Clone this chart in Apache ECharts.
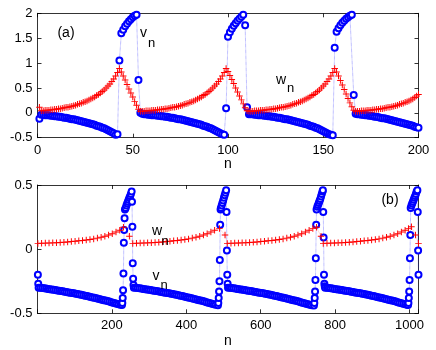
<!DOCTYPE html>
<html><head><meta charset="utf-8">
<script src="https://cdn.jsdelivr.net/npm/echarts@6/dist/echarts.min.js"></script>
<style>html,body{margin:0;padding:0;background:#fff}#c{width:436px;height:350px}</style>
</head><body><div id="c"></div>
<script>
// ---- Panel (a): n = 1..200 ----
const aV = [-0.12,
 -0.04,-0.04,-0.05,-0.05,-0.05,-0.06,-0.06,-0.07,-0.07,-0.08,-0.08,-0.09,-0.10,-0.10,-0.11,-0.12,-0.13,-0.13,-0.14,-0.15,-0.16,-0.17,-0.18,-0.19,-0.20,-0.21,-0.22,-0.23,-0.24,-0.26,-0.27,-0.28,-0.30,-0.31,-0.33,-0.35,-0.37,-0.39,-0.41,-0.44,-0.43,
 1.05,1.60,1.67,1.74,1.79,1.84,1.88,1.92,1.95,1.97,0.66,0.00,
 -0.02,-0.03,-0.03,-0.04,-0.04,-0.05,-0.05,-0.05,-0.06,-0.06,-0.07,-0.07,-0.08,-0.08,-0.09,-0.10,-0.10,-0.11,-0.12,-0.13,-0.13,-0.14,-0.15,-0.16,-0.17,-0.18,-0.19,-0.20,-0.21,-0.22,-0.23,-0.24,-0.26,-0.27,-0.28,-0.30,-0.31,-0.33,-0.35,-0.37,-0.39,-0.41,-0.43,-0.44,
 0.09,1.53,1.62,1.69,1.75,1.80,1.85,1.89,1.93,1.97,1.76,0.11,
 -0.03,-0.03,-0.03,-0.04,-0.04,-0.05,-0.05,-0.05,-0.06,-0.06,-0.07,-0.07,-0.08,-0.08,-0.09,-0.10,-0.10,-0.11,-0.12,-0.13,-0.13,-0.14,-0.15,-0.16,-0.17,-0.18,-0.19,-0.20,-0.21,-0.22,-0.23,-0.24,-0.26,-0.27,-0.28,-0.30,-0.31,-0.33,-0.35,-0.37,-0.39,-0.41,-0.43,-0.44,-0.45,
 1.31,1.63,1.70,1.76,1.81,1.85,1.89,1.92,1.95,1.97,0.36,-0.02,
 -0.03,-0.03,-0.04,-0.04,-0.05,-0.05,-0.06,-0.06,-0.07,-0.08,-0.08,-0.09,-0.10,-0.11,-0.11,-0.12,-0.13,-0.14,-0.15,-0.16,-0.17,-0.18,-0.19,-0.20,-0.21,-0.22,-0.23,-0.24,-0.25,-0.26,-0.28,-0.29,-0.30];
const aW = [0.11,
 0.04,0.04,0.05,0.05,0.05,0.06,0.06,0.07,0.07,0.08,0.08,0.09,0.10,0.11,0.11,0.12,0.13,0.14,0.15,0.17,0.18,0.19,0.21,0.22,0.24,0.26,0.28,0.30,0.32,0.35,0.37,0.40,0.43,0.46,0.50,0.54,0.58,0.63,0.68,0.74,0.81,0.89,
 0.82,0.74,0.66,0.57,0.48,0.40,0.32,0.23,0.15,0.07,0.03,
 0.03,0.03,0.04,0.04,0.04,0.05,0.05,0.05,0.06,0.06,0.07,0.07,0.08,0.08,0.09,0.10,0.11,0.11,0.12,0.13,0.14,0.15,0.17,0.18,0.19,0.21,0.22,0.24,0.26,0.28,0.30,0.32,0.35,0.37,0.40,0.43,0.46,0.50,0.54,0.58,0.63,0.68,0.74,0.81,0.89,
 0.83,0.75,0.67,0.59,0.50,0.42,0.34,0.26,0.18,0.10,0.04,
 0.03,0.03,0.03,0.04,0.04,0.04,0.05,0.05,0.05,0.06,0.06,0.07,0.07,0.08,0.08,0.09,0.10,0.11,0.11,0.12,0.13,0.14,0.15,0.17,0.18,0.19,0.21,0.22,0.24,0.26,0.28,0.30,0.32,0.35,0.37,0.40,0.43,0.46,0.50,0.54,0.58,0.63,0.68,0.74,0.81,0.89,
 0.82,0.74,0.65,0.56,0.47,0.38,0.29,0.20,0.12,0.05,0.03,
 0.03,0.03,0.04,0.04,0.04,0.05,0.05,0.05,0.06,0.06,0.07,0.07,0.08,0.08,0.09,0.10,0.11,0.11,0.12,0.13,0.14,0.15,0.17,0.18,0.19,0.21,0.22,0.24,0.26,0.28,0.31,0.34,0.37];

// ---- Panel (b): [n, value] ----
const bV = [[1,-0.20],[2,-0.27],
 [3,-0.300],[8,-0.301],[13,-0.303],[18,-0.305],[23,-0.307],[28,-0.310],[33,-0.312],[38,-0.314],[43,-0.317],[48,-0.319],[53,-0.322],[58,-0.324],[63,-0.327],[68,-0.329],[73,-0.332],[78,-0.334],[83,-0.337],[88,-0.339],[93,-0.342],[98,-0.344],[103,-0.347],[108,-0.350],[113,-0.353],[118,-0.356],[123,-0.360],[128,-0.363],[133,-0.366],[138,-0.369],[143,-0.372],[148,-0.376],[153,-0.379],[158,-0.383],[163,-0.386],[168,-0.390],[173,-0.394],[178,-0.398],[183,-0.401],[188,-0.405],[193,-0.409],[198,-0.413],[203,-0.417],[208,-0.421],[213,-0.425],[218,-0.429],[223,-0.433],[227,-0.436],
 [228,-0.42],[229,-0.38],[230,-0.32],[231,-0.19],[232,0.05],[233,0.15],[234,0.24],[235,0.31],
 [237,0.32],[239,0.34],[241,0.355],[243,0.37],[245,0.385],[247,0.40],[249,0.415],[251,0.43],[253,0.45],
 [254,0.37],[255,0.175],[256,-0.11],[257,-0.23],[258,-0.28],
 [259,-0.300],[264,-0.301],[269,-0.303],[274,-0.305],[279,-0.307],[284,-0.310],[289,-0.312],[294,-0.314],[299,-0.317],[304,-0.319],[309,-0.322],[314,-0.324],[319,-0.327],[324,-0.329],[329,-0.332],[334,-0.334],[339,-0.337],[344,-0.339],[349,-0.342],[354,-0.344],[359,-0.347],[364,-0.350],[369,-0.353],[374,-0.356],[379,-0.360],[384,-0.363],[389,-0.366],[394,-0.369],[399,-0.372],[404,-0.376],[409,-0.379],[414,-0.383],[419,-0.386],[424,-0.390],[429,-0.394],[434,-0.398],[439,-0.401],[444,-0.405],[449,-0.409],[454,-0.413],[459,-0.417],[464,-0.421],[469,-0.425],[474,-0.429],[479,-0.433],[485,-0.437],
 [486,-0.42],[487,-0.38],[488,-0.33],[489,-0.25],[490,-0.085],[491,0.19],[492,0.31],
 [493,0.32],[495,0.34],[497,0.36],[499,0.38],[501,0.40],[503,0.42],[505,0.44],[507,0.46],
 [508,0.29],[509,-0.01],[510,-0.20],[511,-0.27],
 [512,-0.300],[517,-0.301],[522,-0.303],[527,-0.305],[532,-0.307],[537,-0.310],[542,-0.312],[547,-0.314],[552,-0.317],[557,-0.319],[562,-0.322],[567,-0.324],[572,-0.327],[577,-0.329],[582,-0.332],[587,-0.334],[592,-0.337],[597,-0.339],[602,-0.342],[607,-0.344],[612,-0.347],[617,-0.350],[622,-0.353],[627,-0.356],[632,-0.360],[637,-0.363],[642,-0.366],[647,-0.369],[652,-0.372],[657,-0.376],[662,-0.379],[667,-0.383],[672,-0.386],[677,-0.390],[682,-0.394],[687,-0.398],[692,-0.401],[697,-0.405],[702,-0.409],[707,-0.413],[712,-0.417],[717,-0.421],[722,-0.425],[727,-0.429],[732,-0.433],[737,-0.437],[743,-0.440],
 [744,-0.42],[745,-0.38],[746,-0.33],[747,-0.24],[748,-0.07],[749,0.19],
 [750,0.31],[752,0.33],[754,0.345],[756,0.36],[758,0.375],[760,0.39],[762,0.41],[764,0.43],[766,0.45],[767,0.46],
 [768,0.29],[769,0.09],[770,-0.20],[771,-0.27],[772,-0.29],
 [773,-0.300],[778,-0.301],[783,-0.303],[788,-0.305],[793,-0.307],[798,-0.310],[803,-0.312],[808,-0.314],[813,-0.317],[818,-0.319],[823,-0.322],[828,-0.324],[833,-0.327],[838,-0.329],[843,-0.332],[848,-0.334],[853,-0.337],[858,-0.339],[863,-0.342],[868,-0.344],[873,-0.347],[878,-0.350],[883,-0.353],[888,-0.356],[893,-0.360],[898,-0.363],[903,-0.366],[908,-0.369],[913,-0.372],[918,-0.376],[923,-0.379],[928,-0.383],[933,-0.386],[938,-0.390],[943,-0.394],[948,-0.398],[953,-0.401],[958,-0.405],[963,-0.409],[968,-0.413],[973,-0.417],[978,-0.421],[983,-0.425],[988,-0.429],[993,-0.433],[996,-0.436],
 [997,-0.42],[998,-0.38],[999,-0.33],[1000,-0.24],[1001,-0.07],[1002,0.11],
 [1003,0.32],[1005,0.34],[1007,0.355],[1009,0.37],[1011,0.385],[1013,0.40],[1015,0.415],[1017,0.43],[1019,0.45],[1021,0.46],
 [1022,0.29],[1023,-0.01],[1024,-0.20]];
const bW = [[1,0.045],[11,0.046],[21,0.047],[31,0.048],[41,0.049],[51,0.050],[61,0.052],[71,0.054],[81,0.056],[91,0.059],[101,0.062],[111,0.065],[121,0.068],[131,0.071],[141,0.075],[151,0.080],[161,0.086],[171,0.093],[181,0.100],[191,0.110],[201,0.120],[211,0.133],[221,0.148],[231,0.17],[247,0.10],
 [256,0.045],[266,0.046],[276,0.047],[286,0.048],[296,0.049],[306,0.050],[316,0.052],[326,0.054],[336,0.056],[346,0.059],[356,0.062],[366,0.065],[376,0.068],[386,0.071],[396,0.075],[406,0.080],[416,0.086],[426,0.093],[436,0.100],[446,0.110],[456,0.120],[466,0.133],[476,0.148],[489,0.16],[504,0.11],
 [510,0.045],[520,0.046],[530,0.047],[540,0.048],[550,0.049],[560,0.050],[570,0.052],[580,0.054],[590,0.056],[600,0.059],[610,0.062],[620,0.065],[630,0.068],[640,0.071],[650,0.075],[660,0.080],[670,0.086],[680,0.093],[690,0.100],[700,0.110],[710,0.120],[720,0.133],[730,0.148],[740,0.16],[750,0.17],[762,0.10],
 [768,0.045],[778,0.046],[788,0.047],[798,0.048],[808,0.049],[818,0.050],[828,0.052],[838,0.054],[848,0.056],[858,0.059],[868,0.062],[878,0.065],[888,0.068],[898,0.071],[908,0.075],[918,0.080],[928,0.086],[938,0.093],[948,0.100],[958,0.110],[968,0.120],[978,0.133],[988,0.148],[997,0.16],[1005,0.175],[1016,0.11],[1024,0.045]];

// ---- tick labels ----
const xTicksA = [0, 50, 100, 150, 200];
const yTicksA = [-0.5, 0, 0.5, 1, 1.5, 2];
const xTicksB = [200, 400, 600, 800, 1000];
const yTicksB = [-0.5, 0, 0.5];

const FONT = "'Liberation Sans', Arial, Helvetica, sans-serif";
const BLUE = '#0000ff', RED = '#ff0000';
const PLUS = 'path://M4.25,0H5.75V4.25H10V5.75H5.75V10H4.25V5.75H0V4.25H4.25Z';

const aVdata = aV.map((v, i) => [i + 1, v]);
const aWdata = aW.map((v, i) => [i + 1, v]);

function showIf(list) {
  return function (val) {
    for (const t of list) if (Math.abs(t - val) < 1e-9) return String(t);
    return '';
  };
}
const AX = { color: '#000', width: 0.8 };
function mainX(gi, min, max, interval, ticks) {
  return {
    type: 'value', gridIndex: gi, position: 'bottom', min, max, interval,
    axisLine: { show: true, onZero: false, lineStyle: AX },
    axisTick: { show: true, inside: true, length: 4, lineStyle: AX },
    axisLabel: { show: true, color: '#000', fontSize: 13, fontFamily: FONT, margin: 6, formatter: showIf(ticks), showMinLabel: true, showMaxLabel: true },
    splitLine: { show: false }
  };
}
function mirrorX(gi, min, max, interval) {
  return {
    type: 'value', gridIndex: gi, position: 'top', min, max, interval,
    axisLine: { show: true, onZero: false, lineStyle: AX },
    axisTick: { show: true, inside: true, length: 4, lineStyle: AX },
    axisLabel: { show: false }, splitLine: { show: false }
  };
}
function mainY(gi, min, max, interval, ticks) {
  return {
    type: 'value', gridIndex: gi, position: 'left', min, max, interval,
    axisLine: { show: true, onZero: false, lineStyle: AX },
    axisTick: { show: true, inside: true, length: 4, lineStyle: AX },
    axisLabel: { show: true, color: '#000', fontSize: 13, fontFamily: FONT, margin: 5, formatter: showIf(ticks) },
    splitLine: { show: false }
  };
}
function mirrorY(gi, min, max, interval) {
  return {
    type: 'value', gridIndex: gi, position: 'right', min, max, interval,
    axisLine: { show: true, onZero: false, lineStyle: AX },
    axisTick: { show: true, inside: true, length: 4, lineStyle: AX },
    axisLabel: { show: false }, splitLine: { show: false }
  };
}
function txt(text, x, y, size) {
  return { type: 'text', x, y, z: 100, style: { text, fill: '#000', fontSize: size, fontFamily: FONT, align: 'center', verticalAlign: 'middle' } };
}
const circleStyle = { color: BLUE, borderColor: BLUE, borderWidth: 0.7 };
const blueLine = { color: BLUE, width: 0.6, type: 'dotted', opacity: 0.7 };
const redLine = { color: RED, width: 0.6, type: 'dotted', opacity: 0.5 };

const chart = echarts.init(document.getElementById('c'), null, { renderer: 'canvas', width: 436, height: 350 });
chart.setOption({
  animation: false,
  backgroundColor: '#fff',
  grid: [
    { left: 37.5, top: 13.3, width: 381, height: 124.4, containLabel: false, outerBoundsMode: 'none' },
    { left: 37.5, top: 185, width: 381, height: 128.3, containLabel: false, outerBoundsMode: 'none' }
  ],
  xAxis: [
    mainX(0, 0, 200, 50, xTicksA), mirrorX(0, 0, 200, 50),
    mainX(1, 0, 1024, 200, xTicksB), mirrorX(1, 0, 1024, 200)
  ],
  yAxis: [
    mainY(0, -0.5, 2, 0.5, yTicksA), mirrorY(0, -0.5, 2, 0.5),
    mainY(1, -0.5, 0.5, 0.5, yTicksB), mirrorY(1, -0.5, 0.5, 0.5)
  ],
  series: [
    { type: 'line', xAxisIndex: 0, yAxisIndex: 0, data: aVdata, symbol: 'emptyCircle', symbolSize: 6, showAllSymbol: true,
      itemStyle: circleStyle, lineStyle: blueLine },
    { type: 'line', xAxisIndex: 0, yAxisIndex: 0, data: aWdata, symbol: PLUS, symbolSize: 6.5, showAllSymbol: true,
      itemStyle: { color: RED }, lineStyle: redLine },
    { type: 'line', xAxisIndex: 2, yAxisIndex: 2, data: bV, symbol: 'emptyCircle', symbolSize: 6, showAllSymbol: true,
      itemStyle: circleStyle, lineStyle: blueLine },
    { type: 'line', xAxisIndex: 2, yAxisIndex: 2, data: bW, symbol: PLUS, symbolSize: 6.5, showAllSymbol: true,
      itemStyle: { color: RED }, lineStyle: redLine }
  ],
  graphic: { elements: [
    txt('(a)', 66, 33, 14),
    txt('v', 143.5, 33, 14), txt('n', 151.5, 43, 13),
    txt('w', 281, 80, 14), txt('n', 290.5, 88, 13),
    txt('n', 228, 164, 14),
    txt('(b)', 390, 200.5, 14),
    txt('w', 157, 231.5, 14), txt('n', 165, 241.5, 13),
    txt('v', 156, 276.5, 14), txt('n', 164, 285, 13),
    txt('n', 228, 341, 14)
  ] }
});
</script></body></html>
